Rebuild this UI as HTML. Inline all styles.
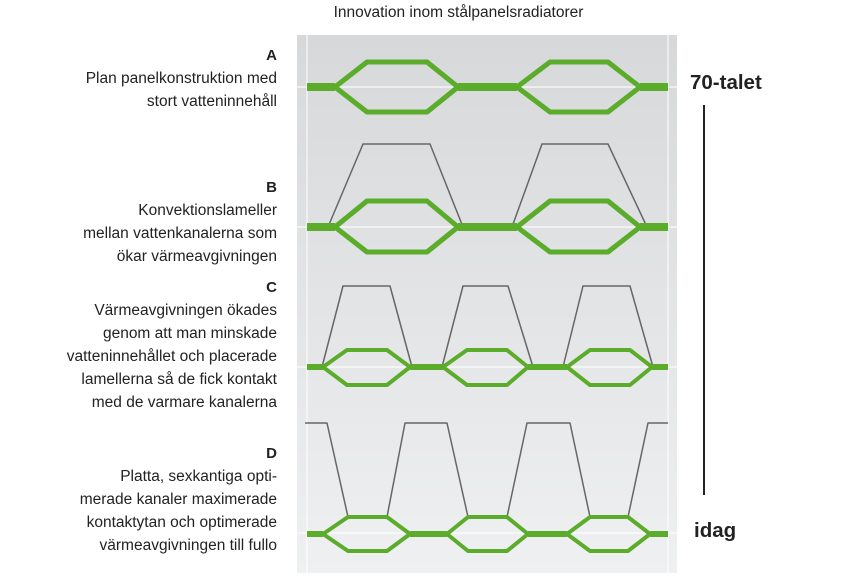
<!DOCTYPE html>
<html><head><meta charset="utf-8"><style>
body{margin:0;width:867px;height:583px;background:#fff;position:relative;overflow:hidden;font-family:"Liberation Sans",sans-serif;color:#222}
.t{position:absolute;right:590px;text-align:right;font-size:15.5px;line-height:23px;white-space:nowrap}
.h{font-weight:bold;font-size:15px}
</style></head><body>
<div style="position:absolute;left:0;width:867px;top:4px;text-align:center;font-size:15.5px;padding-left:50px;box-sizing:border-box">Innovation inom stålpanelsradiatorer</div>
<div class="t" style="top:44px"><span class="h">A</span><br>Plan panelkonstruktion med<br>stort vatteninnehåll</div>
<div class="t" style="top:176px"><span class="h">B</span><br>Konvektionslameller<br>mellan vattenkanalerna som<br>ökar värmeavgivningen</div>
<div class="t" style="top:276px"><span class="h">C</span><br>Värmeavgivningen ökades<br>genom att man minskade<br>vatteninnehållet och placerade<br>lamellerna så de fick kontakt<br>med de varmare kanalerna</div>
<div class="t" style="top:442px"><span class="h">D</span><br>Platta, sexkantiga opti-<br>merade kanaler maximerade<br>kontaktytan och optimerade<br>värmeavgivningen till fullo</div>
<div style="position:absolute;left:690px;top:71px;font-weight:bold;font-size:20.5px">70-talet</div>
<div style="position:absolute;left:703px;top:105px;width:2px;height:390px;background:#222"></div>
<div style="position:absolute;left:694px;top:519px;font-weight:bold;font-size:20.5px">idag</div>
<svg width="867" height="583" style="position:absolute;left:0;top:0">
<defs><linearGradient id="g" x1="0" y1="0" x2="0" y2="1"><stop offset="0" stop-color="#d7d8da"/><stop offset="1" stop-color="#eff0f1"/></linearGradient></defs>
<rect x="297" y="35" width="380" height="538" fill="url(#g)"/>
<g stroke="#fff" stroke-width="1.2" opacity="0.85">
<line x1="307" y1="35" x2="307" y2="573"/><line x1="668" y1="35" x2="668" y2="573"/>
<line x1="297" y1="87" x2="677" y2="87"/><line x1="297" y1="227" x2="677" y2="227"/><line x1="297" y1="367" x2="677" y2="367"/><line x1="297" y1="533" x2="677" y2="533"/>
</g>
<g fill="none" stroke="#666" stroke-width="1.5" stroke-linejoin="round">
<path d="M328 227 L363 144 L430 144 L463 227 M512 227 L542 144 L608 144 L647 227"/>
<path d="M322 367 L343 286 L390 286 L412 367 M442 367 L463 286 L508 286 L533 367 M563 367 L583 286 L630 286 L653 367"/>
<path d="M305 423 L327 423 L348 517 L387 517 L405 423 L447 423 L468 517 L507 517 L527 423 L570 423 L590 517 L628 517 L648 423 L668 423"/>
</g>
<g fill="none" stroke="#5aac2a" stroke-linejoin="round">
<g stroke-width="5">
<path d="M335 87 L367 62 L427 62 L458 87 L427 112 L367 112 Z M517 87 L550 62 L608 62 L640 87 L608 112 L550 112 Z"/>
<path d="M335 227 L367 201 L427 201 L458 227 L427 252 L367 252 Z M517 227 L550 201 L608 201 L640 227 L608 252 L550 252 Z"/>
</g>
<g stroke-width="8"><path d="M307 87 H335 M458 87 H517 M640 87 H668 M307 227 H335 M458 227 H517 M640 227 H668"/></g>
<g stroke-width="4">
<path d="M323 367 L347 350 L387 350 L410 367 L387 385 L347 385 Z M443 367 L467 350 L507 350 L528 367 L507 385 L467 385 Z M567 367 L590 350 L630 350 L652 367 L630 385 L590 385 Z"/>
<path d="M323 534 L348 517 L387 517 L410 534 L387 551 L348 551 Z M447 534 L468 517 L507 517 L528 534 L507 551 L468 551 Z M567 534 L590 517 L628 517 L650 534 L628 551 L590 551 Z"/>
</g>
<g stroke-width="6"><path d="M307 367 H323 M410 367 H443 M528 367 H567 M652 367 H668 M307 534 H323 M410 534 H447 M528 534 H567 M650 534 H668"/></g>
</g>
</svg>
</body></html>
